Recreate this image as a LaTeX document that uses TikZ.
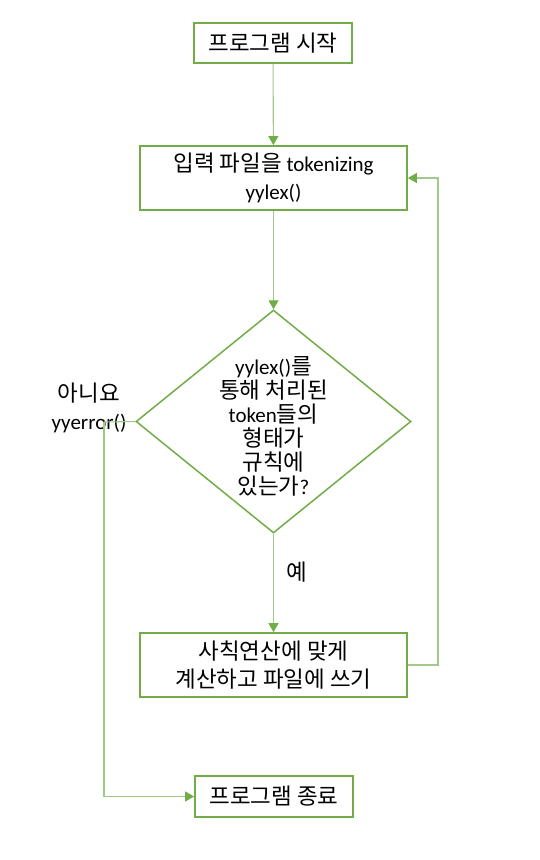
\documentclass[tikz,border=0pt]{standalone}
\usepackage{fontspec}
\setmainfont{Carlito}
\newfontfamily\kr[Scale=1.07]{Noto Sans CJK KR}
\usetikzlibrary{shapes.geometric,arrows.meta}
\definecolor{boxgreen}{HTML}{70AD47}
\definecolor{linegreen}{HTML}{A3C98A}
\tikzset{
  procbox/.style={draw=boxgreen,line width=1.8pt,fill=white,inner sep=0pt,align=center,font=\fontsize{21}{28}\selectfont},
  decision/.style={draw=boxgreen,line width=1.5pt,shape=diamond,inner sep=0pt,minimum width=275pt,minimum height=223pt},
  txt/.style={align=center,inner sep=0pt,font=\fontsize{21}{24}\selectfont},
  conn/.style={draw=linegreen,line width=1.1pt,-{Triangle[width=10pt,length=9pt,color=boxgreen]}},
  plain/.style={draw=linegreen,line width=1.1pt}
}
\begin{document}
\begin{tikzpicture}[x=1pt,y=-1pt]
\useasboundingbox (0,0) rectangle (540,860);
\node[procbox,minimum width=158pt,minimum height=40pt] (start) at (273,43) {{\kr 프로그램 시작}};
\node[procbox,minimum width=267pt,minimum height=64pt] (tok) at (273.5,178) {{\kr 입력 파일을} tokenizing\\yylex()};
\node[decision] (dec) at (273.5,421.5) {};
\node[txt] (dectext) at (273.5,426) {yylex(){\kr 를}\\{\kr 통해 처리된}\\token{\kr 들의}\\{\kr 형태가}\\{\kr 규칙에}\\{\kr 있는가}?};
\node[procbox,minimum width=267pt,minimum height=64pt] (calc) at (273.5,665) {{\kr 사칙연산에 맞게}\\{\kr 계산하고 파일에 쓰기}};
\node[procbox,minimum width=158pt,minimum height=41pt] (end) at (274,796.5) {{\kr 프로그램 종료}};
\node[txt,font=\fontsize{21}{28}\selectfont] (nolabel) at (89,408) {{\kr 아니요}\\yyerror()};
\node[txt] (yeslabel) at (297,572) {{\kr 예}};
\coordinate (nocorner) at (104,422);
\coordinate (loopcorner) at (438,665);
\draw[conn] (start) -- (tok);
\draw[conn] (tok) -- (dec.north);
\draw[conn] (dec.south) -- (calc);
\draw[plain] (dec.west) -- (nocorner);
\draw[conn] (nocorner) |- (end.west);
\draw[conn] (calc.east) -- (loopcorner) |- (tok.east);
\end{tikzpicture}
\end{document}
